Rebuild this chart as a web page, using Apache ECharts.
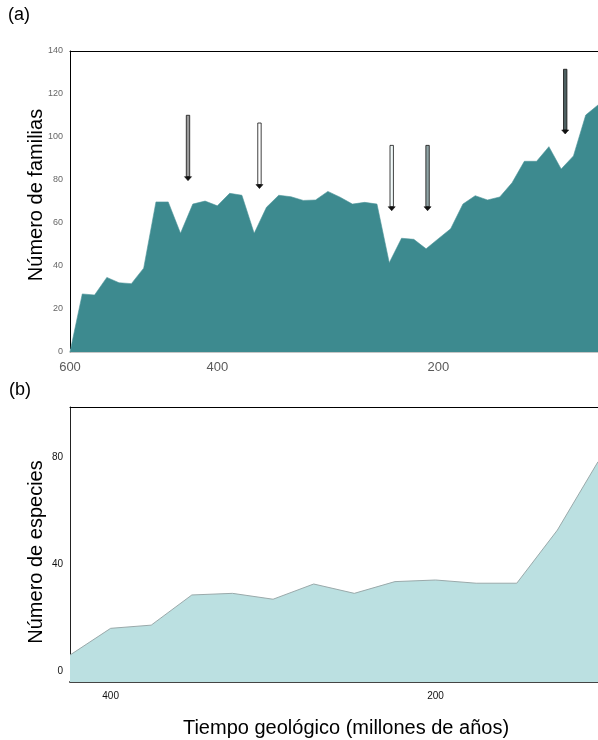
<!DOCTYPE html>
<html>
<head>
<meta charset="utf-8">
<script src="https://cdn.jsdelivr.net/npm/echarts@6/dist/echarts.min.js"></script>
<style>html,body{margin:0;padding:0;background:#fff;}#c{width:598px;height:740px;}</style>
</head>
<body>
<div id="c"></div>
<script>
// ---- Panel (a): families ----
const AGES_A = ['600','583','567','550','533','517','500','483','467','450','433','417','400',
  '389','378','367','356','344','333','322','311','300','289','278','267','256','244','233','222','211','200',
  '189','178','167','156','144','133','122','111','100','89','78','67','56'];
const FAMILIAS = [0,27,26.5,34.7,32.2,31.8,39,69.8,69.8,55.2,68.8,70.2,68,
  73.8,72.9,55.2,67.3,72.9,72.2,70.5,70.7,74.7,72,68.8,69.6,68.8,41.5,52.9,52.4,48,52.7,
  57.3,68.8,72.7,70.7,72.1,78.7,88.7,88.7,95.5,85.1,91.2,110.2,114.9];
const LABELS_A = ['600','400','200'];
const TICKS_Y_A = [0,20,40,60,80,100,120,140];
// arrows: [category position, top value, tip value]
const ARROWS = [[9.61,110.1,79.7],[15.43,106.5,76],[26.2,96.1,65.7],[29.12,96.1,65.7],[40.33,131.5,101.4]];
const ARROW_FILLS = ['#9a9a9a','#ffffff','#f2fbfb','#8fa3a5','#4d5f60'];

// ---- Panel (b): species ----
const AGES_B = ['425','400','375','350','325','300','275','250','225','200','175','150','125','100'];
const ESPECIES = [6.1,16.1,17.3,28.6,29.2,27.0,32.7,29.2,33.6,34.2,33.0,33.0,52.9,78.5];
const LABELS_B = ['400','200'];
const TICKS_Y_B = [0,40,80];

const FONT = 'Liberation Sans, Arial, sans-serif';
const chart = echarts.init(document.getElementById('c'), null, {renderer:'canvas'});

chart.setOption({
  animation:false,
  backgroundColor:'#ffffff',
  graphic:[
    {type:'text', left:8, top:6, style:{text:'(a)', font:'18px '+FONT, fill:'#000'}},
    {type:'text', left:9, top:381, style:{text:'(b)', font:'18px '+FONT, fill:'#000'}}
  ],
  grid:[
    {left:70, right:0, top:51, bottom:388},
    {left:70, right:0, top:407, bottom:58}
  ],
  xAxis:[
    {gridIndex:0, type:'category', data:AGES_A, boundaryGap:false, position:'bottom',
     axisLine:{onZero:false, lineStyle:{color:'#b4b4b4', width:1.5}},
     axisTick:{show:true, inside:true, length:3, interval:0, lineStyle:{color:'#cfd6d6'}},
     axisLabel:{interval:(i,v)=>LABELS_A.includes(v), color:'#5a5a5a', fontSize:13, fontFamily:FONT, margin:9},
     splitLine:{show:false}},
    {gridIndex:0, type:'value', min:0, max:AGES_A.length-1, position:'top',
     axisLine:{show:true, onZero:false, lineStyle:{color:'#000', width:1}},
     axisTick:{show:false}, axisLabel:{show:false}, splitLine:{show:false}},
    {gridIndex:1, type:'category', data:AGES_B, boundaryGap:false, position:'bottom',
     axisLine:{onZero:false, lineStyle:{color:'#444', width:2}},
     axisTick:{show:false},
     axisLabel:{interval:(i,v)=>LABELS_B.includes(v), color:'#111', fontSize:10, fontFamily:FONT, margin:9},
     name:'Tiempo geológico (millones de años)', nameLocation:'middle', nameGap:36, nameMoveOverlap:false,
     nameTextStyle:{fontSize:20, fontFamily:FONT, color:'#000', padding:[0,0,0,24]},
     splitLine:{show:false}},
    {gridIndex:1, type:'value', min:0, max:1, position:'top',
     axisLine:{show:true, onZero:false, lineStyle:{color:'#000', width:1}},
     axisTick:{show:false}, axisLabel:{show:false}, splitLine:{show:false}}
  ],
  yAxis:[
    {gridIndex:0, type:'value', min:0, max:140, interval:20,
     axisLine:{show:true, onZero:false, lineStyle:{color:'#000', width:1}},
     axisTick:{show:false},
     axisLabel:{color:'#666', fontSize:9, fontFamily:FONT, margin:7,
       customValues:TICKS_Y_A},
     splitLine:{show:false},
     name:'Número de familias', nameLocation:'middle', nameGap:24, nameMoveOverlap:false,
     nameTextStyle:{fontSize:20, fontFamily:FONT, color:'#000', padding:[0,0,0,13]}},
    {gridIndex:1, type:'value', min:-4, max:99,
     axisLine:{show:true, onZero:false, lineStyle:{color:'#222', width:1}},
     axisTick:{show:false},
     axisLabel:{color:'#111', fontSize:10, fontFamily:FONT, margin:7, customValues:TICKS_Y_B},
     splitLine:{show:false},
     name:'Número de especies', nameLocation:'middle', nameGap:24, nameMoveOverlap:false,
     nameTextStyle:{fontSize:20, fontFamily:FONT, color:'#000', padding:[0,15,0,0]}}
  ],
  series:[
    {type:'line', xAxisIndex:0, yAxisIndex:0, data:FAMILIAS, symbol:'none',
     lineStyle:{color:'#4f969a', width:0.6}, areaStyle:{color:'#3d8a8f', opacity:1}, z:2},
    {type:'custom', xAxisIndex:1, yAxisIndex:0, data:ARROWS, z:5,
     renderItem:function(params, api){
       const x = api.value(0), yt = api.value(1), yb = api.value(2);
       const pt = api.coord([x, yt]), pb = api.coord([x, yb]);
       const headH = 4, headW = 3.5, shaftW = 1.7;
       const fill = ARROW_FILLS[params.dataIndex];
       return {type:'group', children:[
         {type:'rect', shape:{x:pt[0]-shaftW, y:pt[1], width:shaftW*2, height:pb[1]-headH-pt[1]},
          style:{fill:fill, stroke:'#111', lineWidth:0.8}},
         {type:'polygon', shape:{points:[[pb[0]-headW,pb[1]-headH],[pb[0]+headW,pb[1]-headH],[pb[0],pb[1]]]},
          style:{fill:'#111', stroke:'#111', lineWidth:0.6}}
       ]};
     }},
    {type:'line', xAxisIndex:2, yAxisIndex:1, data:ESPECIES, symbol:'none',
     lineStyle:{color:'#9aa9aa', width:1}, areaStyle:{color:'#bbe0e1', opacity:1, origin:'start'}, z:2}
  ]
});
</script>
</body>
</html>
